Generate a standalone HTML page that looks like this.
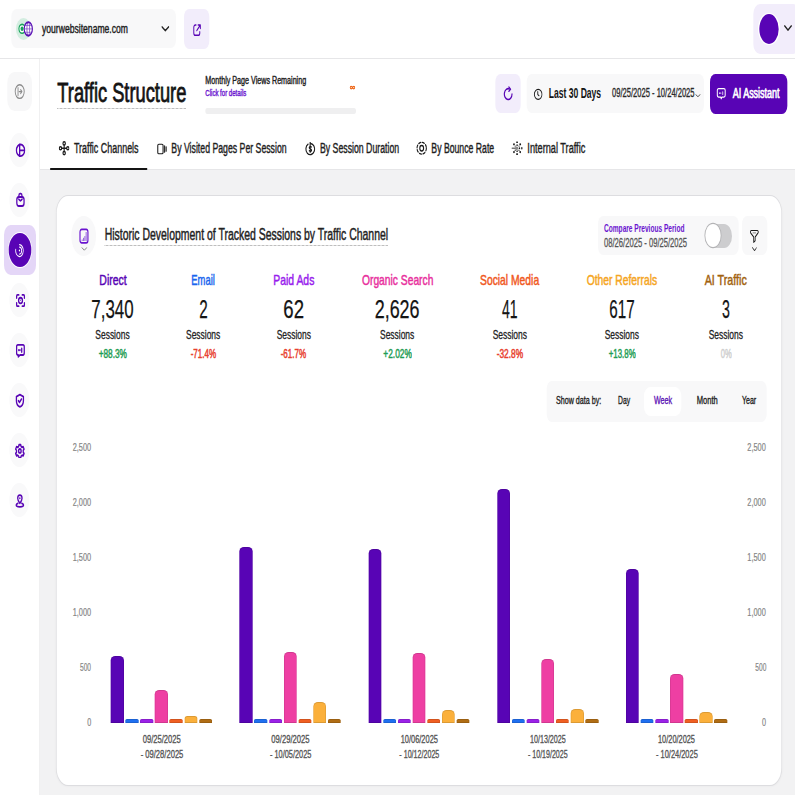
<!DOCTYPE html>
<html><head><meta charset="utf-8"><style>
html,body{margin:0;padding:0;width:795px;height:795px;overflow:hidden;background:#fff}
#root{position:absolute;left:0;top:0;width:1192.5px;height:795px;transform:scaleX(0.666667);transform-origin:0 0;font-family:"Liberation Sans",sans-serif}
.t{position:absolute;white-space:nowrap;line-height:1;transform-origin:0 0}
.b{position:absolute}
</style></head><body><div id="root">
<div class="b" style="left:60.00px;top:169.00px;width:1132.50px;height:626.00px;background:#f2f2f3;border-radius:0;"></div>
<div class="b" style="left:0.00px;top:58.00px;width:1192.50px;height:1.00px;background:#e6e6e8;border-radius:0;"></div>
<div class="b" style="left:58.50px;top:59.00px;width:1.50px;height:736.00px;background:#e9e9eb;border-radius:0;"></div>
<div class="b" style="left:60.00px;top:168.80px;width:1132.50px;height:1.00px;background:#e6e6e8;border-radius:0;"></div>
<div class="b" style="left:16.50px;top:9.00px;width:247.50px;height:39.00px;background:#f8f8f9;border-radius:8px;"></div>
<svg class="b" style="left:24.00px;top:18.00px;" width="22.50" height="22.00" viewBox="0 0 22 22" preserveAspectRatio="none"><circle cx="11" cy="11" r="11" fill="#d3ede0"/></svg>
<svg class="b" style="left:27.30px;top:23.20px;" width="12.30" height="11.60" viewBox="0 0 12 12" preserveAspectRatio="none"><circle cx="6" cy="6" r="4.6" fill="#fff" stroke="#17a35a" stroke-width="1.6"/><circle cx="6" cy="6" r="2.3" fill="#17a35a"/></svg>
<svg class="b" style="left:35.40px;top:21.30px;" width="14.85" height="15.80" viewBox="0 0 16 16" preserveAspectRatio="none"><ellipse cx="8" cy="8" rx="6.6" ry="6.9" fill="#fff" stroke="#5a10b4" stroke-width="1.9"/><ellipse cx="8" cy="8" rx="2.2" ry="6.9" fill="none" stroke="#5a10b4" stroke-width="0.8"/><path d="M2.2 4.6h11.6M1.2 8h13.6M2.2 11.4h11.6" stroke="#6a3cc4" stroke-width="0.8"/></svg>
<div class="t" style="left:62.85px;top:23.26px;font-size:12.09px;color:#222;font-weight:400;transform:scaleX(1.0675);-webkit-text-stroke:0.40px #222;">yourwebsitename.com</div>
<svg class="b" style="left:241.50px;top:26.00px;" width="12.00" height="5.50" viewBox="0 0 12 6.5" preserveAspectRatio="none"><path d="M1 1l5 4.5 5-4.5" fill="none" stroke="#222" stroke-width="1.7" stroke-linecap="round" stroke-linejoin="round"/></svg>
<div class="b" style="left:276.00px;top:9.00px;width:37.50px;height:40.00px;background:#f2edfb;border-radius:8px;"></div>
<svg class="b" style="left:288.75px;top:22.50px;" width="13.50" height="14.00" viewBox="0 0 24 24" preserveAspectRatio="none"><path d="M9 3.5H7A4 4 0 0 0 3 7.5v9.5a4 4 0 0 0 4 4h8a4 4 0 0 0 4-4v-2" fill="none" stroke="#5804b5" stroke-width="2.6" stroke-linecap="round" stroke-linejoin="round"/><path d="M11 13L20 4M14.5 3.5H20.5V9.5" fill="none" stroke="#5804b5" stroke-width="2.6" stroke-linecap="round" stroke-linejoin="round"/></svg>
<div class="b" style="left:1129.50px;top:4.00px;width:70.50px;height:50.00px;background:#f2edfb;border-radius:10px;"></div>
<div class="b" style="left:1137.45px;top:12.60px;width:32.10px;height:32.40px;background:#ffffff;border-radius:50%;"></div>
<div class="b" style="left:1138.80px;top:13.60px;width:29.40px;height:30.40px;background:#5804b5;border-radius:50%;"></div>
<svg class="b" style="left:1176.00px;top:25.00px;" width="12.00" height="6.00" viewBox="0 0 12 6.5" preserveAspectRatio="none"><path d="M1 1l5 4.5 5-4.5" fill="none" stroke="#222" stroke-width="1.7" stroke-linecap="round" stroke-linejoin="round"/></svg>
<div class="b" style="left:10.50px;top:72.00px;width:37.50px;height:39.00px;background:#f7f7f8;border-radius:11px;"></div>
<svg class="b" style="left:21.45px;top:82.80px;" width="17.10" height="17.20" viewBox="0 0 24 24" preserveAspectRatio="none"><circle cx="12" cy="12" r="9.5" fill="none" stroke="#8a8a8a" stroke-width="1.9" stroke-linecap="round" stroke-linejoin="round"/><path d="M8.5 6.5v11M11 12h5.5M14 9.3L16.7 12 14 14.7" fill="none" stroke="#8a8a8a" stroke-width="1.9" stroke-linecap="round" stroke-linejoin="round"/></svg>
<div class="b" style="left:14.25px;top:133.00px;width:29.70px;height:34.00px;background:#f9f9fa;border-radius:50%;"></div>
<div class="b" style="left:14.25px;top:183.00px;width:29.70px;height:34.00px;background:#f9f9fa;border-radius:50%;"></div>
<div class="b" style="left:14.25px;top:283.00px;width:29.70px;height:34.00px;background:#f9f9fa;border-radius:50%;"></div>
<div class="b" style="left:14.25px;top:333.00px;width:29.70px;height:34.00px;background:#f9f9fa;border-radius:50%;"></div>
<div class="b" style="left:14.25px;top:383.00px;width:29.70px;height:34.00px;background:#f9f9fa;border-radius:50%;"></div>
<div class="b" style="left:14.25px;top:433.00px;width:29.70px;height:34.00px;background:#f9f9fa;border-radius:50%;"></div>
<div class="b" style="left:14.25px;top:483.00px;width:29.70px;height:34.00px;background:#f9f9fa;border-radius:50%;"></div>
<svg class="b" style="left:22.50px;top:143.00px;" width="15.60" height="14.70" viewBox="0 0 24 24" preserveAspectRatio="none"><circle cx="12" cy="12" r="9.5" fill="none" stroke="#5804b5" stroke-width="3.0" stroke-linecap="round" stroke-linejoin="round"/><path d="M10 2.5v19M10 12h11.5" fill="none" stroke="#5804b5" stroke-width="3.0" stroke-linecap="round" stroke-linejoin="round"/></svg>
<svg class="b" style="left:22.80px;top:192.30px;" width="15.30" height="15.70" viewBox="0 0 24 24" preserveAspectRatio="none"><rect x="3.5" y="7.5" width="17" height="14" rx="4.5" fill="none" stroke="#5804b5" stroke-width="3.0" stroke-linecap="round" stroke-linejoin="round"/><path d="M8.5 7.5V5a2.5 2.5 0 0 1 2.5-2.5h2A2.5 2.5 0 0 1 15.5 5v2.5M8 11q4 4.5 8 0" fill="none" stroke="#5804b5" stroke-width="3.0" stroke-linecap="round" stroke-linejoin="round"/></svg>
<div class="b" style="left:6.30px;top:225.00px;width:47.25px;height:50.00px;background:#e4d6f7;border-radius:10px;"></div>
<div class="b" style="left:12.00px;top:232.00px;width:36.15px;height:36.20px;background:#ffffff;border-radius:50%;"></div>
<div class="b" style="left:12.90px;top:232.80px;width:34.35px;height:34.60px;background:#5804b5;border-radius:50%;"></div>
<svg class="b" style="left:22.20px;top:242.80px;" width="14.40" height="15.10" viewBox="0 0 24 24" preserveAspectRatio="none"><circle cx="12" cy="12" r="1.6" fill="#fff"/><path d="M12 6.5a5.5 5.5 0 0 1 0 11" fill="none" stroke="#fff" stroke-width="2" stroke-linecap="round" stroke-linejoin="round"/><path d="M12 2.5a9.5 9.5 0 1 1-9.3 7.6" fill="none" stroke="#fff" stroke-width="2" stroke-linecap="round" stroke-linejoin="round"/></svg>
<svg class="b" style="left:22.50px;top:293.00px;" width="15.60" height="15.00" viewBox="0 0 24 24" preserveAspectRatio="none"><path d="M3 8V5a2 2 0 0 1 2-2h3M16 3h3a2 2 0 0 1 2 2v3M21 16v3a2 2 0 0 1-2 2h-3M8 21H5a2 2 0 0 1-2-2v-3" fill="none" stroke="#5804b5" stroke-width="3.0" stroke-linecap="round" stroke-linejoin="round"/><circle cx="12" cy="12" r="4.5" fill="none" stroke="#5804b5" stroke-width="3.0" stroke-linecap="round" stroke-linejoin="round"/><path d="M10.5 10.8h3L12 13z" fill="#5804b5"/></svg>
<svg class="b" style="left:22.80px;top:343.40px;" width="15.30" height="15.10" viewBox="0 0 24 24" preserveAspectRatio="none"><path d="M6 3h12a3 3 0 0 1 3 3v10a3 3 0 0 1-3 3h-7l-4 3v-3H6a3 3 0 0 1-3-3V6a3 3 0 0 1 3-3z" fill="none" stroke="#5804b5" stroke-width="3.0" stroke-linecap="round" stroke-linejoin="round"/><path d="M8 11v.5M11 11v.5M15 8.5v6" fill="none" stroke="#5804b5" stroke-width="3.0" stroke-linecap="round" stroke-linejoin="round"/></svg>
<svg class="b" style="left:22.05px;top:393.00px;" width="15.75" height="15.50" viewBox="0 0 24 24" preserveAspectRatio="none"><path d="M12 2.5l8 3v6.5c0 5-3.5 8.2-8 9.5-4.5-1.3-8-4.5-8-9.5V5.5z" fill="none" stroke="#5804b5" stroke-width="3.0" stroke-linecap="round" stroke-linejoin="round"/><path d="M8.5 12l2.5 2.5 4.5-5" fill="none" stroke="#5804b5" stroke-width="3.0" stroke-linecap="round" stroke-linejoin="round"/></svg>
<svg class="b" style="left:22.20px;top:442.50px;" width="15.60" height="15.80" viewBox="0 0 24 24" preserveAspectRatio="none"><path d="M10 2.5h4l.7 2.6 2.4 1.4 2.6-.7 2 3.5-1.9 1.9v2.8l1.9 1.9-2 3.5-2.6-.7-2.4 1.4-.7 2.6h-4l-.7-2.6-2.4-1.4-2.6.7-2-3.5 1.9-1.9v-2.8L2.3 9.3l2-3.5 2.6.7 2.4-1.4z" fill="none" stroke="#5804b5" stroke-width="3.0" stroke-linecap="round" stroke-linejoin="round"/><circle cx="12" cy="12" r="3" fill="none" stroke="#5804b5" stroke-width="3.0" stroke-linecap="round" stroke-linejoin="round"/></svg>
<svg class="b" style="left:22.20px;top:493.60px;" width="15.60" height="14.40" viewBox="0 0 24 24" preserveAspectRatio="none"><path d="M12 15.5s-5-4.8-5-8.5a5 5 0 0 1 10 0c0 3.7-5 8.5-5 8.5z" fill="none" stroke="#5804b5" stroke-width="3.0" stroke-linecap="round" stroke-linejoin="round"/><circle cx="12" cy="7" r="1.6" fill="#5804b5"/><path d="M7.5 15.5C5 16.2 3.5 17.3 3.5 18.5c0 1.9 3.8 3 8.5 3s8.5-1.1 8.5-3c0-1.2-1.5-2.3-4-3" fill="none" stroke="#5804b5" stroke-width="3.0" stroke-linecap="round" stroke-linejoin="round"/></svg>
<div class="t" style="left:85.50px;top:78.88px;font-size:27.66px;color:#141414;font-weight:400;transform:scaleX(0.9911);-webkit-text-stroke:0.80px #141414;">Traffic Structure</div>
<div class="b" style="left:85.50px;top:107.8px;width:193.50px;height:0;border-top:1.3px dotted #8a8a8a"></div>
<div class="t" style="left:307.95px;top:75.87px;font-size:10.43px;color:#222;font-weight:400;transform:scaleX(1.0291);-webkit-text-stroke:0.40px #222;">Monthly Page Views Remaining</div>
<div class="t" style="left:307.95px;top:89.19px;font-size:9.22px;color:#6a14cf;font-weight:400;transform:scaleX(0.9837);-webkit-text-stroke:0.40px #6a14cf;">Click for details</div>
<svg class="b" style="left:523.50px;top:85.20px;" width="9.45" height="5.20" viewBox="0 0 16 10" preserveAspectRatio="none"><path d="M8 5C6.5 2 2.2 2 2.2 5s4.3 3 5.8 0 5.8-3 5.8 0-4.3 3-5.8 0z" fill="none" stroke="#ee6515" stroke-width="2.4" stroke-linecap="round" stroke-linejoin="round"/></svg>
<div class="b" style="left:307.95px;top:107.80px;width:225.75px;height:6.00px;background:#efeff0;border-radius:3px;"></div>
<div class="b" style="left:742.95px;top:74.40px;width:38.25px;height:38.60px;background:#f2edfb;border-radius:8px;"></div>
<svg class="b" style="left:754.20px;top:86.30px;" width="17.25" height="16.20" viewBox="0 0 24 24" preserveAspectRatio="none"><path d="M19.5 12A8 8 0 1 1 14 4.4" fill="none" stroke="#5804b5" stroke-width="2.4" stroke-linecap="round" stroke-linejoin="round"/><path d="M13 1.5l3.5 3.3-3.6 3" fill="none" stroke="#5804b5" stroke-width="2.4" stroke-linecap="round" stroke-linejoin="round"/></svg>
<div class="b" style="left:790.20px;top:74.00px;width:265.80px;height:39.00px;background:#f8f8f9;border-radius:8px;"></div>
<svg class="b" style="left:799.95px;top:87.80px;" width="14.55" height="12.70" viewBox="0 0 24 24" preserveAspectRatio="none"><circle cx="12" cy="12" r="9.5" fill="none" stroke="#1a1a1a" stroke-width="2.2" stroke-linecap="round" stroke-linejoin="round"/><path d="M11 7v5.5l3 2" fill="none" stroke="#1a1a1a" stroke-width="2.2" stroke-linecap="round" stroke-linejoin="round"/></svg>
<div class="t" style="left:822.75px;top:86.96px;font-size:13.76px;color:#141414;font-weight:700;transform:scaleX(0.9362);">Last 30 Days</div>
<div class="t" style="left:917.70px;top:87.25px;font-size:12.70px;color:#2a2a2a;font-weight:400;transform:scaleX(0.8954);-webkit-text-stroke:0.35px #2a2a2a;">09/25/2025 - 10/24/2025</div>
<svg class="b" style="left:1043.40px;top:93.50px;" width="7.80" height="3.30" viewBox="0 0 12 6.5" preserveAspectRatio="none"><path d="M1 1l5 4.5 5-4.5" fill="none" stroke="#333" stroke-width="1.8" stroke-linecap="round" stroke-linejoin="round"/></svg>
<div class="b" style="left:1065.00px;top:74.30px;width:116.40px;height:39.30px;background:#5804b5;border-radius:8px;"></div>
<svg class="b" style="left:1074.45px;top:87.20px;" width="15.75" height="13.40" viewBox="0 0 24 24" preserveAspectRatio="none"><path d="M6 3h12a3 3 0 0 1 3 3v9a3 3 0 0 1-3 3h-4.5L12 21l-1.5-3H6a3 3 0 0 1-3-3V6a3 3 0 0 1 3-3z" fill="none" stroke="#fff" stroke-width="2.3" stroke-linecap="round" stroke-linejoin="round"/><path d="M8 10.5v1M11 10.5v1M15.5 8.5v5" fill="none" stroke="#fff" stroke-width="1.8" stroke-linecap="round" stroke-linejoin="round"/></svg>
<div class="t" style="left:1099.05px;top:86.93px;font-size:13.91px;color:#ffffff;font-weight:400;transform:scaleX(0.9682);-webkit-text-stroke:0.70px #ffffff;">AI Assistant</div>
<div class="t" style="left:111.00px;top:141.10px;font-size:14.06px;color:#1e1e1e;font-weight:400;transform:scaleX(0.9539);-webkit-text-stroke:0.40px #1e1e1e;">Traffic Channels</div>
<div class="t" style="left:257.10px;top:141.10px;font-size:14.06px;color:#1e1e1e;font-weight:400;transform:scaleX(0.9320);-webkit-text-stroke:0.40px #1e1e1e;">By Visited Pages Per Session</div>
<div class="t" style="left:479.70px;top:141.10px;font-size:14.06px;color:#1e1e1e;font-weight:400;transform:scaleX(0.9327);-webkit-text-stroke:0.40px #1e1e1e;">By Session Duration</div>
<div class="t" style="left:647.10px;top:141.10px;font-size:14.06px;color:#1e1e1e;font-weight:400;transform:scaleX(0.9287);-webkit-text-stroke:0.40px #1e1e1e;">By Bounce Rate</div>
<div class="t" style="left:790.50px;top:141.10px;font-size:14.06px;color:#1e1e1e;font-weight:400;transform:scaleX(0.9795);-webkit-text-stroke:0.40px #1e1e1e;">Internal Traffic</div>
<svg class="b" style="left:87.75px;top:141.00px;" width="16.50" height="14.50" viewBox="0 0 24 24" preserveAspectRatio="none"><circle cx="12" cy="4" r="2.6" fill="none" stroke="#1a1a1a" stroke-width="2.4" stroke-linecap="round" stroke-linejoin="round"/><circle cx="12" cy="20" r="2.6" fill="none" stroke="#1a1a1a" stroke-width="2.4" stroke-linecap="round" stroke-linejoin="round"/><circle cx="4" cy="12" r="2.6" fill="none" stroke="#1a1a1a" stroke-width="2.4" stroke-linecap="round" stroke-linejoin="round"/><circle cx="20" cy="12" r="2.6" fill="none" stroke="#1a1a1a" stroke-width="2.4" stroke-linecap="round" stroke-linejoin="round"/><path d="M12 6.6v10.8M6.6 12h10.8" fill="none" stroke="#1a1a1a" stroke-width="2.4" stroke-linecap="round" stroke-linejoin="round"/></svg>
<svg class="b" style="left:235.35px;top:143.00px;" width="15.90" height="12.00" viewBox="0 0 24 24" preserveAspectRatio="none"><rect x="2.5" y="2.5" width="12" height="19" rx="2.5" fill="none" stroke="#1a1a1a" stroke-width="2.4" stroke-linecap="round" stroke-linejoin="round"/><path d="M18 5.5v13M21.5 7.5v9" fill="none" stroke="#1a1a1a" stroke-width="2.4" stroke-linecap="round" stroke-linejoin="round"/></svg>
<svg class="b" style="left:456.75px;top:141.50px;" width="16.50" height="14.00" viewBox="0 0 24 24" preserveAspectRatio="none"><path d="M7.5 3.8A9.5 9.5 0 1 0 13 2.6" fill="none" stroke="#1a1a1a" stroke-width="2.4" stroke-linecap="round" stroke-linejoin="round"/><path d="M12 1v4" fill="none" stroke="#1a1a1a" stroke-width="2.4" stroke-linecap="round" stroke-linejoin="round"/><path d="M14.5 8.5c-1-1-4.5-1-4.5 1.2 0 2.6 5 1.6 5 4.3 0 2.2-3.6 2.2-5 1.1M12 6.5v11" fill="none" stroke="#1a1a1a" stroke-width="2.4" stroke-linecap="round" stroke-linejoin="round"/></svg>
<svg class="b" style="left:624.45px;top:141.30px;" width="17.10" height="14.40" viewBox="0 0 24 24" preserveAspectRatio="none"><circle cx="12" cy="12" r="9.8" stroke-dasharray="4.5 3.2" fill="none" stroke="#1a1a1a" stroke-width="2.3" stroke-linecap="round" stroke-linejoin="round"/><ellipse cx="12" cy="12" rx="4" ry="4.6" fill="none" stroke="#1a1a1a" stroke-width="2.3" stroke-linecap="round" stroke-linejoin="round"/></svg>
<svg class="b" style="left:767.25px;top:141.30px;" width="17.25" height="14.40" viewBox="0 0 24 24" preserveAspectRatio="none"><g fill="#1a1a1a"><rect x="10" y="0.8" width="4" height="2.6" rx="1.2"/><rect x="10" y="20.6" width="4" height="2.6" rx="1.2"/><rect x="20.6" y="10" width="2.6" height="4" rx="1.2"/><circle cx="5.5" cy="5.5" r="1.9"/><circle cx="18.5" cy="5.5" r="1.9"/><circle cx="5.5" cy="18.5" r="1.9"/><circle cx="18.5" cy="18.5" r="1.9"/><circle cx="12" cy="7" r="1.5"/><circle cx="12" cy="17" r="1.5"/><circle cx="17" cy="12" r="1.5"/><circle cx="8" cy="8.5" r="1.2"/><circle cx="16" cy="8.5" r="1.2"/><circle cx="8" cy="15.5" r="1.2"/><circle cx="16" cy="15.5" r="1.2"/></g><ellipse cx="11" cy="12" rx="3.5" ry="3" fill="#888"/><path d="M1.5 12h6" stroke="#777" stroke-width="2.6" stroke-linecap="round"/></svg>
<div class="b" style="left:75.00px;top:167.50px;width:146.40px;height:2.00px;background:#141414;border-radius:1px;"></div>
<div class="b" style="left:84.90px;top:195.6px;width:1086.90px;height:589.60px;background:#fff;border-radius:17px;box-shadow:0 0 0 1px #dddde0,0 1px 3px rgba(0,0,0,0.05)"></div>
<div class="b" style="left:107.25px;top:216.00px;width:37.20px;height:39.50px;background:#f8f8f9;border-radius:50%;"></div>
<svg class="b" style="left:118.20px;top:228.20px;" width="15.90" height="16.30" viewBox="0 0 24 24" preserveAspectRatio="none"><rect x="3" y="2" width="18" height="20" rx="4" fill="none" stroke="#6a14cf" stroke-width="2.6" stroke-linecap="round" stroke-linejoin="round"/><path d="M8 18.5v-1M11 18.5v-3.5M14 18.5v-6M17 18.5V6.5" fill="none" stroke="#7d3fd6" stroke-width="1.4" stroke-linecap="round" stroke-linejoin="round"/></svg>
<svg class="b" style="left:121.50px;top:246.80px;" width="9.00" height="3.80" viewBox="0 0 12 6.5" preserveAspectRatio="none"><path d="M1 1l5 4.5 5-4.5" fill="none" stroke="#777" stroke-width="1.6" stroke-linecap="round" stroke-linejoin="round"/></svg>
<div class="t" style="left:156.60px;top:226.44px;font-size:16.02px;color:#222;font-weight:400;transform:scaleX(0.9795);-webkit-text-stroke:0.45px #222;">Historic Development of Tracked Sessions by Traffic Channel</div>
<div class="b" style="left:156.60px;top:244.8px;width:425.40px;height:0;border-top:1.3px dotted #8a8a8a"></div>
<div class="b" style="left:897.45px;top:216.30px;width:210.15px;height:39.00px;background:#f8f8f9;border-radius:8px;"></div>
<div class="t" style="left:905.70px;top:222.60px;font-size:11.34px;color:#6a14cf;font-weight:700;transform:scaleX(0.8712);">Compare Previous Period</div>
<div class="t" style="left:905.70px;top:236.94px;font-size:12.24px;color:#555555;font-weight:400;transform:scaleX(0.9341);-webkit-text-stroke:0.30px #555555;">08/26/2025 - 09/25/2025</div>
<div class="b" style="left:1057.80px;top:223.90px;width:40.20px;height:23.90px;background:#cdcdcf;border-radius:12px;"></div>
<div class="b" style="left:1058.10px;top:224.30px;width:23.40px;height:23.10px;background:#ffffff;border-radius:50%;box-shadow:0 0 0 1.3px #b4b4b6"></div>
<div class="b" style="left:1113.00px;top:216.30px;width:38.25px;height:39.20px;background:#f8f8f9;border-radius:8px;"></div>
<svg class="b" style="left:1123.95px;top:228.80px;" width="15.00" height="14.20" viewBox="0 0 24 24" preserveAspectRatio="none"><path d="M5 2.5h14a2.5 2.5 0 0 1 1.8 4.2L14 13.5V20l-3.5 2.5v-9L3.2 6.7A2.5 2.5 0 0 1 5 2.5z" fill="none" stroke="#1a1a1a" stroke-width="2" stroke-linecap="round" stroke-linejoin="round"/><path d="M8 6.5h8" stroke="#999" stroke-width="2"/></svg>
<svg class="b" style="left:1127.85px;top:246.70px;" width="7.65" height="4.30" viewBox="0 0 12 6.5" preserveAspectRatio="none"><path d="M1 1l5 4.5 5-4.5" fill="none" stroke="#333" stroke-width="1.6" stroke-linecap="round" stroke-linejoin="round"/></svg>
<div class="t" style="left:148.57px;top:271.60px;font-size:15.12px;color:#5804b5;font-weight:400;transform:scaleX(1.0375);-webkit-text-stroke:0.50px #5804b5;">Direct</div>
<div class="t" style="left:137.33px;top:296.28px;font-size:26.60px;color:#141414;font-weight:400;transform:scaleX(0.9532);-webkit-text-stroke:0.25px #141414;">7,340</div>
<div class="t" style="left:143.33px;top:328.04px;font-size:13.30px;color:#222;font-weight:400;transform:scaleX(0.9531);-webkit-text-stroke:0.30px #222;">Sessions</div>
<div class="t" style="left:147.82px;top:348.12px;font-size:12.85px;color:#1f9d55;font-weight:400;transform:scaleX(0.9663);-webkit-text-stroke:0.50px #1f9d55;">+88.3%</div>
<div class="t" style="left:287.48px;top:271.60px;font-size:15.12px;color:#1a66ee;font-weight:400;transform:scaleX(0.9324);-webkit-text-stroke:0.50px #1a66ee;">Email</div>
<div class="t" style="left:298.73px;top:296.28px;font-size:26.60px;color:#141414;font-weight:400;transform:scaleX(0.8619);-webkit-text-stroke:0.25px #141414;">2</div>
<div class="t" style="left:279.38px;top:328.04px;font-size:13.30px;color:#222;font-weight:400;transform:scaleX(0.9531);-webkit-text-stroke:0.30px #222;">Sessions</div>
<div class="t" style="left:285.98px;top:348.12px;font-size:12.85px;color:#e8402e;font-weight:400;transform:scaleX(0.9397);-webkit-text-stroke:0.50px #e8402e;">-71.4%</div>
<div class="t" style="left:409.80px;top:271.60px;font-size:15.12px;color:#981ced;font-weight:400;transform:scaleX(1.0308);-webkit-text-stroke:0.50px #981ced;">Paid Ads</div>
<div class="t" style="left:425.02px;top:296.28px;font-size:26.60px;color:#141414;font-weight:400;transform:scaleX(1.0495);-webkit-text-stroke:0.25px #141414;">62</div>
<div class="t" style="left:414.83px;top:328.04px;font-size:13.30px;color:#222;font-weight:400;transform:scaleX(0.9531);-webkit-text-stroke:0.30px #222;">Sessions</div>
<div class="t" style="left:421.42px;top:348.12px;font-size:12.85px;color:#e8402e;font-weight:400;transform:scaleX(0.9397);-webkit-text-stroke:0.50px #e8402e;">-61.7%</div>
<div class="t" style="left:542.55px;top:271.60px;font-size:15.12px;color:#e8309d;font-weight:400;transform:scaleX(1.0197);-webkit-text-stroke:0.50px #e8309d;">Organic Search</div>
<div class="t" style="left:562.42px;top:296.28px;font-size:26.60px;color:#141414;font-weight:400;transform:scaleX(1.0118);-webkit-text-stroke:0.25px #141414;">2,626</div>
<div class="t" style="left:570.38px;top:328.04px;font-size:13.30px;color:#222;font-weight:400;transform:scaleX(0.9531);-webkit-text-stroke:0.30px #222;">Sessions</div>
<div class="t" style="left:574.72px;top:348.12px;font-size:12.85px;color:#1f9d55;font-weight:400;transform:scaleX(0.9731);-webkit-text-stroke:0.50px #1f9d55;">+2.02%</div>
<div class="t" style="left:720.00px;top:271.60px;font-size:15.12px;color:#f0581e;font-weight:400;transform:scaleX(1.0259);-webkit-text-stroke:0.50px #f0581e;">Social Media</div>
<div class="t" style="left:752.70px;top:296.28px;font-size:26.60px;color:#141414;font-weight:400;transform:scaleX(0.7910);-webkit-text-stroke:0.25px #141414;">41</div>
<div class="t" style="left:738.68px;top:328.04px;font-size:13.30px;color:#222;font-weight:400;transform:scaleX(0.9531);-webkit-text-stroke:0.30px #222;">Sessions</div>
<div class="t" style="left:744.53px;top:348.12px;font-size:12.85px;color:#e8402e;font-weight:400;transform:scaleX(0.9765);-webkit-text-stroke:0.50px #e8402e;">-32.8%</div>
<div class="t" style="left:880.12px;top:271.60px;font-size:15.12px;color:#f5a522;font-weight:400;transform:scaleX(1.0235);-webkit-text-stroke:0.50px #f5a522;">Other Referrals</div>
<div class="t" style="left:913.95px;top:296.28px;font-size:26.60px;color:#141414;font-weight:400;transform:scaleX(0.8586);-webkit-text-stroke:0.25px #141414;">617</div>
<div class="t" style="left:907.28px;top:328.04px;font-size:13.30px;color:#222;font-weight:400;transform:scaleX(0.9531);-webkit-text-stroke:0.30px #222;">Sessions</div>
<div class="t" style="left:912.75px;top:348.12px;font-size:12.85px;color:#1f9d55;font-weight:400;transform:scaleX(0.9219);-webkit-text-stroke:0.50px #1f9d55;">+13.8%</div>
<div class="t" style="left:1057.35px;top:271.60px;font-size:15.12px;color:#a2620f;font-weight:400;transform:scaleX(1.0663);-webkit-text-stroke:0.50px #a2620f;">AI Traffic</div>
<div class="t" style="left:1083.07px;top:296.28px;font-size:26.60px;color:#141414;font-weight:400;transform:scaleX(0.8011);-webkit-text-stroke:0.25px #141414;">3</div>
<div class="t" style="left:1063.28px;top:328.04px;font-size:13.30px;color:#222;font-weight:400;transform:scaleX(0.9531);-webkit-text-stroke:0.30px #222;">Sessions</div>
<div class="t" style="left:1080.75px;top:348.12px;font-size:12.85px;color:#cfcfcf;font-weight:400;transform:scaleX(0.8887);-webkit-text-stroke:0.50px #cfcfcf;">0%</div>
<div class="b" style="left:819.90px;top:381.00px;width:330.60px;height:40.80px;background:#f8f8f9;border-radius:8px;"></div>
<div class="b" style="left:966.00px;top:386.50px;width:55.95px;height:29.30px;background:#ffffff;border-radius:9px;"></div>
<div class="t" style="left:833.55px;top:395.16px;font-size:11.03px;color:#222;font-weight:400;transform:scaleX(0.9717);-webkit-text-stroke:0.35px #222;">Show data by:</div>
<div class="t" style="left:926.55px;top:395.16px;font-size:11.03px;color:#222;font-weight:400;transform:scaleX(0.9251);-webkit-text-stroke:0.35px #222;">Day</div>
<div class="t" style="left:981.00px;top:395.16px;font-size:11.03px;color:#5a10b4;font-weight:400;transform:scaleX(0.9740);-webkit-text-stroke:0.35px #5a10b4;">Week</div>
<div class="t" style="left:1044.60px;top:395.16px;font-size:11.03px;color:#222;font-weight:400;transform:scaleX(1.0321);-webkit-text-stroke:0.35px #222;">Month</div>
<div class="t" style="left:1112.55px;top:395.16px;font-size:11.03px;color:#222;font-weight:400;transform:scaleX(0.9551);-webkit-text-stroke:0.35px #222;">Year</div>
<div class="t" style="left:108.90px;top:442.24px;font-size:10.58px;color:#858585;font-weight:400;transform:scaleX(1.0425);-webkit-text-stroke:0.20px #858585;">2,500</div>
<div class="t" style="left:1121.40px;top:442.24px;font-size:10.58px;color:#858585;font-weight:400;transform:scaleX(1.0425);-webkit-text-stroke:0.20px #858585;">2,500</div>
<div class="t" style="left:108.90px;top:497.24px;font-size:10.58px;color:#858585;font-weight:400;transform:scaleX(1.0425);-webkit-text-stroke:0.20px #858585;">2,000</div>
<div class="t" style="left:1121.40px;top:497.24px;font-size:10.58px;color:#858585;font-weight:400;transform:scaleX(1.0425);-webkit-text-stroke:0.20px #858585;">2,000</div>
<div class="t" style="left:108.90px;top:552.24px;font-size:10.58px;color:#858585;font-weight:400;transform:scaleX(1.0425);-webkit-text-stroke:0.20px #858585;">1,500</div>
<div class="t" style="left:1121.40px;top:552.24px;font-size:10.58px;color:#858585;font-weight:400;transform:scaleX(1.0425);-webkit-text-stroke:0.20px #858585;">1,500</div>
<div class="t" style="left:108.90px;top:607.24px;font-size:10.58px;color:#858585;font-weight:400;transform:scaleX(1.0425);-webkit-text-stroke:0.20px #858585;">1,000</div>
<div class="t" style="left:1121.40px;top:607.24px;font-size:10.58px;color:#858585;font-weight:400;transform:scaleX(1.0425);-webkit-text-stroke:0.20px #858585;">1,000</div>
<div class="t" style="left:120.00px;top:662.24px;font-size:10.58px;color:#858585;font-weight:400;transform:scaleX(0.9349);-webkit-text-stroke:0.20px #858585;">500</div>
<div class="t" style="left:1132.50px;top:662.24px;font-size:10.58px;color:#858585;font-weight:400;transform:scaleX(0.9349);-webkit-text-stroke:0.20px #858585;">500</div>
<div class="t" style="left:130.50px;top:717.24px;font-size:10.58px;color:#858585;font-weight:400;transform:scaleX(1.0198);-webkit-text-stroke:0.20px #858585;">0</div>
<div class="t" style="left:1143.00px;top:717.24px;font-size:10.58px;color:#858585;font-weight:400;transform:scaleX(1.0198);-webkit-text-stroke:0.20px #858585;">0</div>
<div class="b" style="left:166.27px;top:655.70px;width:19.65px;height:67.00px;background:#5804b5;border-radius:7px 7px 0 0/4.5px 4.5px 0 0;box-shadow:inset 0 0 0 1px rgba(0,0,0,0.12)"></div>
<div class="b" style="left:188.32px;top:719.00px;width:19.65px;height:3.70px;background:#1f6ff0;border-radius:2.5px 2.5px 0 0/1.6px 1.6px 0 0;box-shadow:inset 0 0 0 1px rgba(0,0,0,0.12)"></div>
<div class="b" style="left:210.38px;top:719.00px;width:19.65px;height:3.70px;background:#9b22e8;border-radius:2.5px 2.5px 0 0/1.6px 1.6px 0 0;box-shadow:inset 0 0 0 1px rgba(0,0,0,0.12)"></div>
<div class="b" style="left:232.42px;top:690.00px;width:19.65px;height:32.70px;background:#ee3fa3;border-radius:7px 7px 0 0/4.5px 4.5px 0 0;box-shadow:inset 0 0 0 1px rgba(0,0,0,0.12)"></div>
<div class="b" style="left:254.47px;top:719.00px;width:19.65px;height:3.70px;background:#f05f22;border-radius:2.5px 2.5px 0 0/1.6px 1.6px 0 0;box-shadow:inset 0 0 0 1px rgba(0,0,0,0.12)"></div>
<div class="b" style="left:276.52px;top:716.00px;width:19.65px;height:6.70px;background:#fbb03b;border-radius:4px 4px 0 0/2.5px 2.5px 0 0;box-shadow:inset 0 0 0 1px rgba(0,0,0,0.12)"></div>
<div class="b" style="left:298.57px;top:719.00px;width:19.65px;height:3.70px;background:#b06d14;border-radius:2.5px 2.5px 0 0/1.6px 1.6px 0 0;box-shadow:inset 0 0 0 1px rgba(0,0,0,0.12)"></div>
<div class="t" style="left:214.20px;top:733.50px;font-size:11.34px;color:#555;font-weight:400;transform:scaleX(1.0072);-webkit-text-stroke:0.35px #555;">09/25/2025</div>
<div class="t" style="left:210.60px;top:748.50px;font-size:11.34px;color:#555;font-weight:400;transform:scaleX(1.0060);-webkit-text-stroke:0.35px #555;">- 09/28/2025</div>
<div class="b" style="left:359.40px;top:546.60px;width:19.65px;height:176.10px;background:#5804b5;border-radius:7px 7px 0 0/4.5px 4.5px 0 0;box-shadow:inset 0 0 0 1px rgba(0,0,0,0.12)"></div>
<div class="b" style="left:381.45px;top:719.00px;width:19.65px;height:3.70px;background:#1f6ff0;border-radius:2.5px 2.5px 0 0/1.6px 1.6px 0 0;box-shadow:inset 0 0 0 1px rgba(0,0,0,0.12)"></div>
<div class="b" style="left:403.50px;top:719.00px;width:19.65px;height:3.70px;background:#9b22e8;border-radius:2.5px 2.5px 0 0/1.6px 1.6px 0 0;box-shadow:inset 0 0 0 1px rgba(0,0,0,0.12)"></div>
<div class="b" style="left:425.55px;top:651.70px;width:19.65px;height:71.00px;background:#ee3fa3;border-radius:7px 7px 0 0/4.5px 4.5px 0 0;box-shadow:inset 0 0 0 1px rgba(0,0,0,0.12)"></div>
<div class="b" style="left:447.60px;top:719.00px;width:19.65px;height:3.70px;background:#f05f22;border-radius:2.5px 2.5px 0 0/1.6px 1.6px 0 0;box-shadow:inset 0 0 0 1px rgba(0,0,0,0.12)"></div>
<div class="b" style="left:469.65px;top:701.50px;width:19.65px;height:21.20px;background:#fbb03b;border-radius:7px 7px 0 0/4.5px 4.5px 0 0;box-shadow:inset 0 0 0 1px rgba(0,0,0,0.12)"></div>
<div class="b" style="left:491.70px;top:719.00px;width:19.65px;height:3.70px;background:#b06d14;border-radius:2.5px 2.5px 0 0/1.6px 1.6px 0 0;box-shadow:inset 0 0 0 1px rgba(0,0,0,0.12)"></div>
<div class="t" style="left:406.50px;top:733.50px;font-size:11.34px;color:#555;font-weight:400;transform:scaleX(1.0125);-webkit-text-stroke:0.35px #555;">09/29/2025</div>
<div class="t" style="left:404.55px;top:748.50px;font-size:11.34px;color:#555;font-weight:400;transform:scaleX(0.9753);-webkit-text-stroke:0.35px #555;">- 10/05/2025</div>
<div class="b" style="left:552.53px;top:548.60px;width:19.65px;height:174.10px;background:#5804b5;border-radius:7px 7px 0 0/4.5px 4.5px 0 0;box-shadow:inset 0 0 0 1px rgba(0,0,0,0.12)"></div>
<div class="b" style="left:574.58px;top:719.00px;width:19.65px;height:3.70px;background:#1f6ff0;border-radius:2.5px 2.5px 0 0/1.6px 1.6px 0 0;box-shadow:inset 0 0 0 1px rgba(0,0,0,0.12)"></div>
<div class="b" style="left:596.62px;top:719.00px;width:19.65px;height:3.70px;background:#9b22e8;border-radius:2.5px 2.5px 0 0/1.6px 1.6px 0 0;box-shadow:inset 0 0 0 1px rgba(0,0,0,0.12)"></div>
<div class="b" style="left:618.68px;top:653.00px;width:19.65px;height:69.70px;background:#ee3fa3;border-radius:7px 7px 0 0/4.5px 4.5px 0 0;box-shadow:inset 0 0 0 1px rgba(0,0,0,0.12)"></div>
<div class="b" style="left:640.73px;top:719.00px;width:19.65px;height:3.70px;background:#f05f22;border-radius:2.5px 2.5px 0 0/1.6px 1.6px 0 0;box-shadow:inset 0 0 0 1px rgba(0,0,0,0.12)"></div>
<div class="b" style="left:662.78px;top:709.60px;width:19.65px;height:13.10px;background:#fbb03b;border-radius:7px 7px 0 0/4.5px 4.5px 0 0;box-shadow:inset 0 0 0 1px rgba(0,0,0,0.12)"></div>
<div class="b" style="left:684.83px;top:719.00px;width:19.65px;height:3.70px;background:#b06d14;border-radius:2.5px 2.5px 0 0/1.6px 1.6px 0 0;box-shadow:inset 0 0 0 1px rgba(0,0,0,0.12)"></div>
<div class="t" style="left:601.20px;top:733.50px;font-size:11.34px;color:#555;font-weight:400;transform:scaleX(0.9860);-webkit-text-stroke:0.35px #555;">10/06/2025</div>
<div class="t" style="left:598.65px;top:748.50px;font-size:11.34px;color:#555;font-weight:400;transform:scaleX(0.9424);-webkit-text-stroke:0.35px #555;">- 10/12/2025</div>
<div class="b" style="left:745.65px;top:488.80px;width:19.65px;height:233.90px;background:#5804b5;border-radius:7px 7px 0 0/4.5px 4.5px 0 0;box-shadow:inset 0 0 0 1px rgba(0,0,0,0.12)"></div>
<div class="b" style="left:767.70px;top:719.00px;width:19.65px;height:3.70px;background:#1f6ff0;border-radius:2.5px 2.5px 0 0/1.6px 1.6px 0 0;box-shadow:inset 0 0 0 1px rgba(0,0,0,0.12)"></div>
<div class="b" style="left:789.75px;top:719.00px;width:19.65px;height:3.70px;background:#9b22e8;border-radius:2.5px 2.5px 0 0/1.6px 1.6px 0 0;box-shadow:inset 0 0 0 1px rgba(0,0,0,0.12)"></div>
<div class="b" style="left:811.80px;top:658.60px;width:19.65px;height:64.10px;background:#ee3fa3;border-radius:7px 7px 0 0/4.5px 4.5px 0 0;box-shadow:inset 0 0 0 1px rgba(0,0,0,0.12)"></div>
<div class="b" style="left:833.85px;top:719.00px;width:19.65px;height:3.70px;background:#f05f22;border-radius:2.5px 2.5px 0 0/1.6px 1.6px 0 0;box-shadow:inset 0 0 0 1px rgba(0,0,0,0.12)"></div>
<div class="b" style="left:855.90px;top:708.60px;width:19.65px;height:14.10px;background:#fbb03b;border-radius:7px 7px 0 0/4.5px 4.5px 0 0;box-shadow:inset 0 0 0 1px rgba(0,0,0,0.12)"></div>
<div class="b" style="left:877.95px;top:719.00px;width:19.65px;height:3.70px;background:#b06d14;border-radius:2.5px 2.5px 0 0/1.6px 1.6px 0 0;box-shadow:inset 0 0 0 1px rgba(0,0,0,0.12)"></div>
<div class="t" style="left:795.30px;top:733.50px;font-size:11.34px;color:#555;font-weight:400;transform:scaleX(0.9464);-webkit-text-stroke:0.35px #555;">10/13/2025</div>
<div class="t" style="left:792.45px;top:748.50px;font-size:11.34px;color:#555;font-weight:400;transform:scaleX(0.9329);-webkit-text-stroke:0.35px #555;">- 10/19/2025</div>
<div class="b" style="left:938.78px;top:568.50px;width:19.65px;height:154.20px;background:#5804b5;border-radius:7px 7px 0 0/4.5px 4.5px 0 0;box-shadow:inset 0 0 0 1px rgba(0,0,0,0.12)"></div>
<div class="b" style="left:960.83px;top:719.00px;width:19.65px;height:3.70px;background:#1f6ff0;border-radius:2.5px 2.5px 0 0/1.6px 1.6px 0 0;box-shadow:inset 0 0 0 1px rgba(0,0,0,0.12)"></div>
<div class="b" style="left:982.88px;top:719.00px;width:19.65px;height:3.70px;background:#9b22e8;border-radius:2.5px 2.5px 0 0/1.6px 1.6px 0 0;box-shadow:inset 0 0 0 1px rgba(0,0,0,0.12)"></div>
<div class="b" style="left:1004.93px;top:673.60px;width:19.65px;height:49.10px;background:#ee3fa3;border-radius:7px 7px 0 0/4.5px 4.5px 0 0;box-shadow:inset 0 0 0 1px rgba(0,0,0,0.12)"></div>
<div class="b" style="left:1026.97px;top:719.00px;width:19.65px;height:3.70px;background:#f05f22;border-radius:2.5px 2.5px 0 0/1.6px 1.6px 0 0;box-shadow:inset 0 0 0 1px rgba(0,0,0,0.12)"></div>
<div class="b" style="left:1049.03px;top:712.40px;width:19.65px;height:10.30px;background:#fbb03b;border-radius:7px 7px 0 0/4.5px 4.5px 0 0;box-shadow:inset 0 0 0 1px rgba(0,0,0,0.12)"></div>
<div class="b" style="left:1071.07px;top:719.00px;width:19.65px;height:3.70px;background:#b06d14;border-radius:2.5px 2.5px 0 0/1.6px 1.6px 0 0;box-shadow:inset 0 0 0 1px rgba(0,0,0,0.12)"></div>
<div class="t" style="left:987.45px;top:733.50px;font-size:11.34px;color:#555;font-weight:400;transform:scaleX(0.9781);-webkit-text-stroke:0.35px #555;">10/20/2025</div>
<div class="t" style="left:984.15px;top:748.50px;font-size:11.34px;color:#555;font-weight:400;transform:scaleX(0.9848);-webkit-text-stroke:0.35px #555;">- 10/24/2025</div>
</div></body></html>
